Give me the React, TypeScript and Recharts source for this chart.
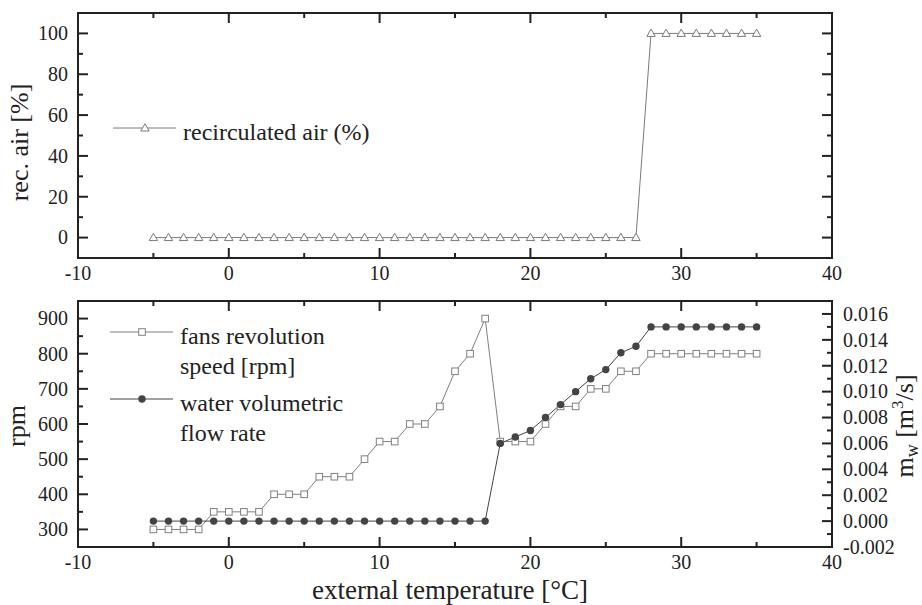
import React from "react";
import { LineChart, Line, XAxis, YAxis, Legend, Label } from "recharts";

// external temperature [°C]
const temps = [
  -5, -4, -3, -2, -1, 0, 1, 2, 3, 4, 5, 6, 7, 8, 9, 10, 11, 12, 13, 14, 15, 16, 17,
  18, 19, 20, 21, 22, 23, 24, 25, 26, 27, 28, 29, 30, 31, 32, 33, 34, 35,
];

// recirculated air [%]
const recAir = [
  0, 0, 0, 0, 0, 0, 0, 0, 0, 0, 0, 0, 0, 0, 0, 0, 0, 0, 0, 0, 0, 0, 0,
  0, 0, 0, 0, 0, 0, 0, 0, 0, 0, 100, 100, 100, 100, 100, 100, 100, 100,
];

// fans revolution speed [rpm]
const fansRpm = [
  300, 300, 300, 300, 350, 350, 350, 350, 400, 400, 400, 450, 450, 450, 500, 550, 550, 600, 600, 650, 750, 800, 900,
  550, 550, 550, 600, 650, 650, 700, 700, 750, 750, 800, 800, 800, 800, 800, 800, 800, 800,
];

// water volumetric flow rate [m3/s]
const waterFlow = [
  0, 0, 0, 0, 0, 0, 0, 0, 0, 0, 0, 0, 0, 0, 0, 0, 0, 0, 0, 0, 0, 0, 0,
  0.006, 0.0065, 0.007, 0.008, 0.009, 0.01, 0.011, 0.0117, 0.013, 0.0135, 0.015, 0.015, 0.015, 0.015, 0.015, 0.015, 0.015, 0.015,
];

const xTicks = [-10, -5, 0, 5, 10, 15, 20, 25, 30, 35, 40];
const recTicks = [0, 10, 20, 30, 40, 50, 60, 70, 80, 90, 100];
const rpmTicks = [300, 350, 400, 450, 500, 550, 600, 650, 700, 750, 800, 850, 900];
const flowTicks = [
  -0.002, -0.001, 0, 0.001, 0.002, 0.003, 0.004, 0.005, 0.006, 0.007, 0.008, 0.009,
  0.01, 0.011, 0.012, 0.013, 0.014, 0.015, 0.016,
];

const topRows = temps.map((t, i) => ({ t, rec: recAir[i] }));
const bottomRows = temps.map((t, i) => ({ t, fans: fansRpm[i], water: waterFlow[i] }));

const FONT = '"Liberation Serif", "Times New Roman", serif';
const INK = "#222";
const frame = { stroke: INK, strokeWidth: 2, strokeLinecap: "square" as const };

const MARKERS: Record<string, { kind: string; color: string }> = {
  rec: { kind: "triangle", color: "#7a7a7a" },
  fans: { kind: "square", color: "#808080" },
  water: { kind: "circle", color: "#444" },
};

function Marker({ kind, cx, cy, color }: { kind: string; cx: number; cy: number; color: string }) {
  if (kind === "triangle")
    return (
      <path
        d={`M${cx},${cy - 4.3}L${cx + 4.2},${cy + 3}L${cx - 4.2},${cy + 3}Z`}
        fill="#fff"
        stroke={color}
        strokeWidth={1}
      />
    );
  if (kind === "square")
    return <rect x={cx - 3.3} y={cy - 3.3} width={6.6} height={6.6} fill="#fff" stroke={color} strokeWidth={1} />;
  return <circle cx={cx} cy={cy} r={3.7} fill={color} />;
}

const dotFor = (key: string) => (p: any) => (
  <Marker key={`${key}-${p.index}`} kind={MARKERS[key].kind} cx={p.cx} cy={p.cy} color={MARKERS[key].color} />
);

// ticks point into the plot; labels sit outside
const xTick = (dir: number, labelled: boolean) => (p: any) => {
  const v = p.payload.value;
  const major = v % 10 === 0;
  return (
    <g>
      <line x1={p.x} x2={p.x} y1={p.y} y2={p.y + dir * (major ? 10 : 5)} stroke={INK} strokeWidth={2} />
      {labelled && major && (
        <text x={p.x} y={p.y + 22} textAnchor="middle" fontSize={20} fontFamily={FONT} fill={INK}>
          {v}
        </text>
      )}
    </g>
  );
};

const yTick =
  (dir: number, isMajor: (v: number) => boolean, fmt?: (v: number) => string) => (p: any) => {
    const v = p.payload.value;
    const major = isMajor(v);
    return (
      <g>
        <line x1={p.x} x2={p.x + dir * (major ? 10 : 5)} y1={p.y} y2={p.y} stroke={INK} strokeWidth={2} />
        {fmt && major && (
          <text
            x={dir > 0 ? p.x - 10 : p.x + 11}
            y={p.y}
            dy="0.34em"
            textAnchor={dir > 0 ? "end" : "start"}
            fontSize={20}
            fontFamily={FONT}
            fill={INK}
          >
            {fmt(v)}
          </text>
        )}
      </g>
    );
  };

const VTitle = (text: React.ReactNode, x: number, dy = 0) => (props: any) => {
  const vb = props.viewBox;
  const cy = vb.y + vb.height / 2 + dy;
  return (
    <text
      x={x}
      y={cy}
      transform={`rotate(-90, ${x}, ${cy})`}
      textAnchor="middle"
      fontSize={26}
      fontFamily={FONT}
      fill={INK}
    >
      {text}
    </text>
  );
};

const legendBox = (rowGap: number) => (props: any) => {
  const items = props.payload || [];
  return (
    <svg width={320} height={150} style={{ overflow: "visible" }}>
      {items.map((it: any, i: number) => {
        const key = String(it.dataKey);
        const m = MARKERS[key];
        const ly = 22 + i * rowGap;
        const lines = String(it.value).split("\n");
        return (
          <g key={key}>
            <line x1={10} x2={73} y1={ly} y2={ly} stroke={m.color} strokeWidth={1} />
            <Marker kind={m.kind} cx={42} cy={ly} color={m.color} />
            {lines.map((s, k) => (
              <text key={k} x={80} y={ly + 12 + k * 30} fontSize={24} fontFamily={FONT} fill={INK}>
                {s}
              </text>
            ))}
          </g>
        );
      })}
    </svg>
  );
};

export default function App() {
  return (
    <div style={{ position: "absolute", left: 0, top: 0, width: 922, height: 605, background: "#fff" }}>
      <LineChart width={922} height={290} data={topRows} margin={{ top: 12, right: 0, bottom: 0, left: 0 }}>
        <XAxis
          xAxisId="b"
          dataKey="t"
          type="number"
          domain={[-10, 40]}
          ticks={xTicks}
          interval={0}
          allowDataOverflow
          height={32}
          tickSize={0}
          tickMargin={0}
          tickLine={false}
          axisLine={frame}
          tick={xTick(-1, true)}
        />
        <XAxis
          xAxisId="t"
          orientation="top"
          dataKey="t"
          type="number"
          domain={[-10, 40]}
          ticks={xTicks}
          interval={0}
          allowDataOverflow
          height={1}
          tickSize={0}
          tickMargin={0}
          tickLine={false}
          axisLine={frame}
          tick={xTick(1, false)}
        />
        <YAxis
          yAxisId="l"
          type="number"
          domain={[-10, 110]}
          ticks={recTicks}
          interval={0}
          allowDataOverflow
          width={78}
          tickSize={0}
          tickMargin={0}
          tickLine={false}
          axisLine={frame}
          tick={yTick(1, (v) => v % 20 === 0, (v) => String(v))}
        >
          <Label content={VTitle("rec. air [%]", 28, 7)} />
        </YAxis>
        <YAxis
          yAxisId="r"
          orientation="right"
          type="number"
          domain={[-10, 110]}
          ticks={recTicks}
          interval={0}
          allowDataOverflow
          width={90}
          tickSize={0}
          tickMargin={0}
          tickLine={false}
          axisLine={frame}
          tick={yTick(-1, (v) => v % 20 === 0)}
        />
        <Legend
          layout="horizontal"
          verticalAlign="middle"
          align="center"
          wrapperStyle={{ position: "absolute", left: 103, top: 106, width: 320, height: 60 }}
          content={legendBox(0)}
        />
        <Line
          xAxisId="b"
          yAxisId="l"
          dataKey="rec"
          name="recirculated air (%)"
          stroke={MARKERS.rec.color}
          strokeWidth={1}
          dot={dotFor("rec")}
          activeDot={false}
          isAnimationActive={false}
        />
      </LineChart>

      <div style={{ position: "absolute", left: 0, top: 290 }}>
        <LineChart width={922} height={315} data={bottomRows} margin={{ top: 10, right: 0, bottom: 0, left: 0 }}>
          <XAxis
            xAxisId="b"
            dataKey="t"
            type="number"
            domain={[-10, 40]}
            ticks={xTicks}
            interval={0}
            allowDataOverflow
            height={58}
            tickSize={0}
            tickMargin={0}
            tickLine={false}
            axisLine={frame}
            tick={xTick(-1, true)}
          >
            <Label
              content={(props: any) => (
                <text
                  x={props.viewBox.x + props.viewBox.width / 2 - 5}
                  y={props.viewBox.y + 52}
                  textAnchor="middle"
                  fontSize={27}
                  fontFamily={FONT}
                  fill={INK}
                >
                  external temperature [°C]
                </text>
              )}
            />
          </XAxis>
          <XAxis
            xAxisId="t"
            orientation="top"
            dataKey="t"
            type="number"
            domain={[-10, 40]}
            ticks={xTicks}
            interval={0}
            allowDataOverflow
            height={1}
            tickSize={0}
            tickMargin={0}
            tickLine={false}
            axisLine={frame}
            tick={xTick(1, false)}
          />
          <YAxis
            yAxisId="rpm"
            type="number"
            domain={[250, 950]}
            ticks={rpmTicks}
            interval={0}
            allowDataOverflow
            width={78}
            tickSize={0}
            tickMargin={0}
            tickLine={false}
            axisLine={frame}
            tick={yTick(1, (v) => v % 100 === 0, (v) => String(v))}
          >
            <Label content={VTitle("rpm", 25, 2)} />
          </YAxis>
          <YAxis
            yAxisId="flow"
            orientation="right"
            type="number"
            domain={[-0.002, 0.017]}
            ticks={flowTicks}
            interval={0}
            allowDataOverflow
            width={90}
            tickSize={0}
            tickMargin={0}
            tickLine={false}
            axisLine={frame}
            tick={yTick(-1, (v) => Math.round(v * 1000) % 2 === 0, (v) => v.toFixed(3))}
          >
            <Label
              content={VTitle(
                <>
                  m<tspan fontSize={18} dy={5}>w</tspan>
                  <tspan dy={-5}> [m</tspan>
                  <tspan fontSize={17} dy={-10}>3</tspan>
                  <tspan dy={10}>/s]</tspan>
                </>,
                913,
                2,
              )}
            />
          </YAxis>
          <Legend
            layout="horizontal"
            verticalAlign="middle"
            align="center"
            wrapperStyle={{ position: "absolute", left: 100, top: 20, width: 320, height: 150 }}
            content={legendBox(67)}
          />
          <Line
            xAxisId="b"
            yAxisId="rpm"
            dataKey="fans"
            name={"fans revolution\nspeed [rpm]"}
            stroke={MARKERS.fans.color}
            strokeWidth={1}
            dot={dotFor("fans")}
            activeDot={false}
            isAnimationActive={false}
          />
          <Line
            xAxisId="b"
            yAxisId="flow"
            dataKey="water"
            name={"water volumetric\nflow rate"}
            stroke={MARKERS.water.color}
            strokeWidth={1}
            dot={dotFor("water")}
            activeDot={false}
            isAnimationActive={false}
          />
        </LineChart>
      </div>
    </div>
  );
}
